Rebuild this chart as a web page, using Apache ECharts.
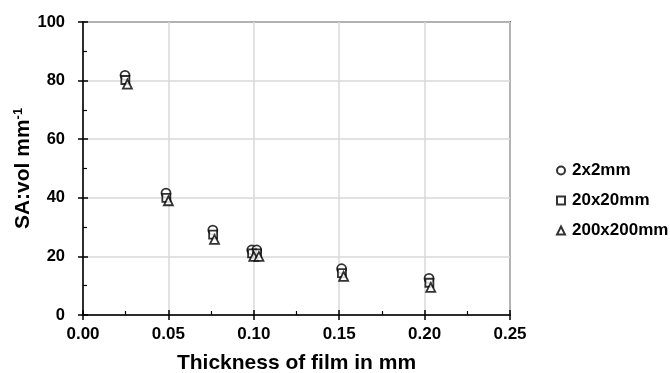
<!DOCTYPE html>
<html>
<head>
<meta charset="utf-8">
<script src="https://cdn.jsdelivr.net/npm/echarts@6/dist/echarts.min.js"></script>
<style>
  html, body { margin: 0; padding: 0; background: #fff; }
  #main { width: 670px; height: 373px; }
</style>
</head>
<body>
<div id="main"></div>
<script>
// data
var seriesNames = ['2x2mm', '20x20mm', '200x200mm'];
var thick2 = [0.0246, 0.0486, 0.076, 0.0988, 0.1017, 0.1514, 0.2026];
var sa2 = [81.8, 41.6, 29, 22.2, 22.2, 15.8, 12.5];
var thick20 = [0.0248, 0.0488, 0.0762, 0.099, 0.1019, 0.1516, 0.2028];
var sa20 = [80.2, 40, 27.4, 21, 21, 14.3, 11];
var thick200 = [0.026, 0.05, 0.077, 0.1, 0.103, 0.1526, 0.2036];
var sa200 = [78.8, 39, 25.8, 20, 20, 13.2, 9.4];
var xTicks = [0, 0.05, 0.1, 0.15, 0.2, 0.25];
var yTicks = [0, 20, 40, 60, 80, 100];

var myChart = echarts.init(document.getElementById('main'));

function pairs(xs, ys) {
  return xs.map(function (x, i) { return [x, ys[i]]; });
}

var font = 'Liberation Sans, Arial, sans-serif';
var markStyle = { color: '#fff', borderColor: '#000', borderWidth: 1.8 };

myChart.setOption({
  animation: false,
  grid: {
    left: 83, right: 160, top: 22, bottom: 58,
    outerBoundsMode: 'none',
    containLabel: false,
    show: true, borderColor: '#000', borderWidth: 1.5
  },
  legend: {
    orient: 'vertical',
    left: 551,
    top: 157,
    itemGap: 13,
    itemWidth: 8,
    itemHeight: 8,
    data: seriesNames,
    textStyle: { fontFamily: font, fontWeight: 'bold', fontSize: 17, color: '#000', padding: [0, 0, 0, 2] }
  },
  xAxis: [{
    type: 'value',
    min: xTicks[0], max: xTicks[xTicks.length - 1], interval: 0.05,
    name: 'Thickness of film in mm',
    nameLocation: 'middle',
    nameGap: 38,
    nameTextStyle: { fontFamily: font, fontWeight: 'bold', fontSize: 21, color: '#000' },
    axisLine: { lineStyle: { color: '#000', width: 1.5 } },
    axisTick: { show: true, length: 5, lineStyle: { color: '#000', width: 1.5 } },
    axisLabel: {
      margin: 11, fontFamily: font, fontWeight: 'bold', fontSize: 17, color: '#000',
      formatter: function (v) { return v.toFixed(2); }
    },
    splitLine: { show: true, lineStyle: { color: '#d9d9d9', width: 1.5 } }
  }, {
    type: 'value', position: 'bottom',
    min: xTicks[0], max: xTicks[xTicks.length - 1], interval: 0.05,
    axisLine: { show: false },
    axisTick: { show: true, inside: true, length: 5, lineStyle: { color: '#000', width: 1.5 } },
    minorTick: { show: true, splitNumber: 2, length: 4, lineStyle: { color: '#000', width: 1.2 } },
    axisLabel: { show: false },
    splitLine: { show: false }
  }],
  yAxis: [{
    type: 'value',
    min: yTicks[0], max: yTicks[yTicks.length - 1], interval: 20,
    name: '{a|SA:vol mm}{b|-1}',
    nameLocation: 'middle',
    nameGap: 48,
    nameMoveOverlap: false,
    nameTextStyle: {
      rich: {
        a: { fontFamily: font, fontWeight: 'bold', fontSize: 21, color: '#000' },
        b: { fontFamily: font, fontWeight: 'bold', fontSize: 13, color: '#000', verticalAlign: 'top', padding: [0, 0, 10, 0] }
      }
    },
    axisLine: { show: true, lineStyle: { color: '#000', width: 1.5 } },
    axisTick: { show: true, length: 5, lineStyle: { color: '#000', width: 1.5 } },
    axisLabel: { margin: 18, fontFamily: font, fontWeight: 'bold', fontSize: 16.5, color: '#000' },
    splitLine: { show: true, lineStyle: { color: '#d9d9d9', width: 1.5 } }
  }, {
    type: 'value', position: 'left',
    min: yTicks[0], max: yTicks[yTicks.length - 1], interval: 20,
    axisLine: { show: false },
    axisTick: { show: true, inside: true, length: 5, lineStyle: { color: '#000', width: 1.5 } },
    minorTick: { show: true, splitNumber: 2, length: 4, lineStyle: { color: '#000', width: 1.2 } },
    axisLabel: { show: false },
    splitLine: { show: false }
  }],
  series: [{
    name: seriesNames[0], type: 'scatter', symbol: 'circle', symbolSize: 9,
    itemStyle: markStyle, data: pairs(thick2, sa2), z: 3
  }, {
    name: seriesNames[1], type: 'scatter', symbol: 'rect', symbolSize: 8,
    itemStyle: markStyle, data: pairs(thick20, sa20), z: 4
  }, {
    name: seriesNames[2], type: 'scatter', symbol: 'triangle', symbolSize: 9,
    itemStyle: markStyle, data: pairs(thick200, sa200), z: 5
  }]
});
</script>
</body>
</html>
